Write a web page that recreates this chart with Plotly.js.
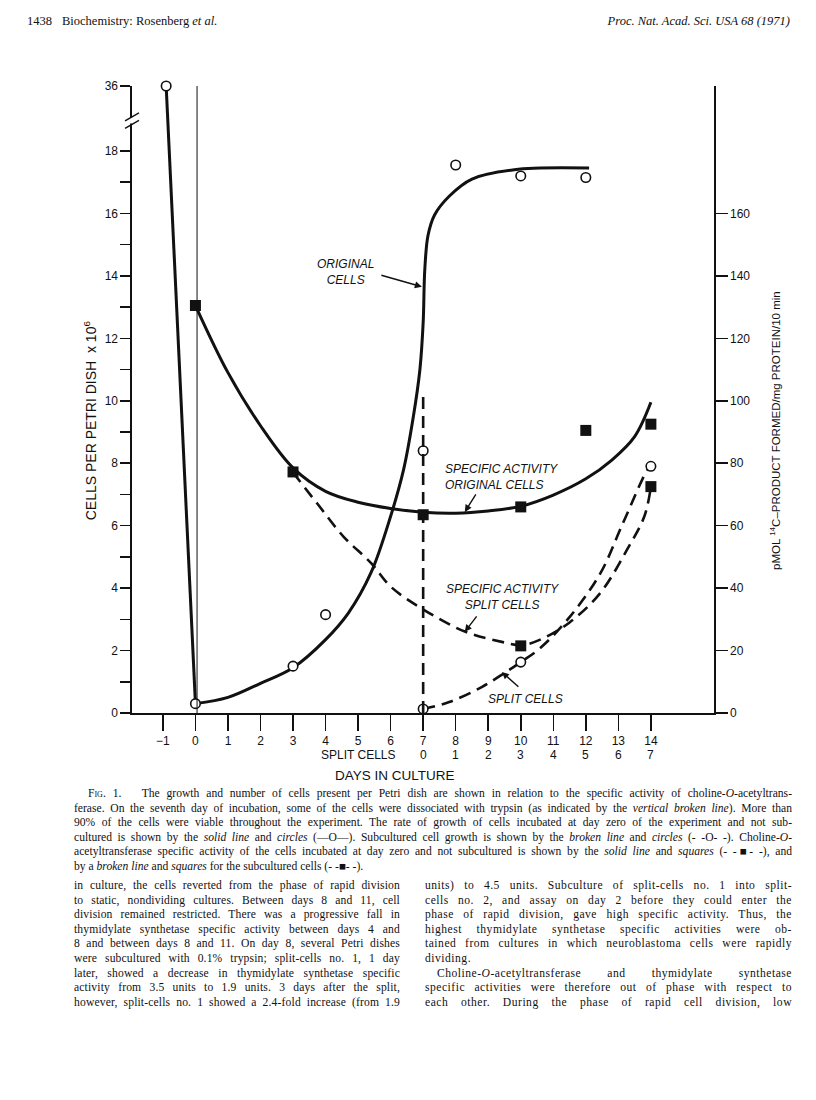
<!DOCTYPE html>
<html>
<head>
<meta charset="utf-8">
<script src="https://cdn.plot.ly/plotly-3.0.1.min.js"></script>
<style>
  body { margin: 0; background: #fff; }
  #page { position: relative; width: 816px; height: 1100px; overflow: hidden; background: #fff; }
  #myPlot { position: absolute; left: 0; top: 0; width: 816px; height: 1100px; }
  .serif { position: absolute; font-family: "Liberation Serif", "DejaVu Serif", serif; color: #111; font-size: 11.6px; line-height: 14.6px; }
  .serif div { text-align: justify; text-align-last: justify; }
  .serif div.end { text-align-last: left; }
  .sc { font-variant: small-caps; }
</style>
</head>
<body>
<div id="page">
  <div id="myPlot"></div>

  <div class="serif" style="left:27px; top:14px; font-size:12.5px;">1438</div>
  <div class="serif" style="left:62px; top:14px; font-size:12.5px;">Biochemistry: Rosenberg <i>et al.</i></div>
  <div class="serif" style="right:26px; top:14px; font-size:12.5px;"><i>Proc. Nat. Acad. Sci. USA 68 (1971)</i></div>

  <div class="serif" style="left:74px; top:787px; width:718px;">
    <div style="padding-left:14px;"><span class="sc">Fig. 1.</span>&nbsp;&nbsp; The growth and number of cells present per Petri dish are shown in relation to the specific activity of choline-<i>O</i>-acetyltrans-</div>
    <div>ferase. On the seventh day of incubation, some of the cells were dissociated with trypsin (as indicated by the <i>vertical broken line</i>). More than</div>
    <div>90% of the cells were viable throughout the experiment. The rate of growth of cells incubated at day zero of the experiment and not sub-</div>
    <div>cultured is shown by the <i>solid line</i> and <i>circles</i> (—O—). Subcultured cell growth is shown by the <i>broken line</i> and <i>circles</i> (- -O- -). Choline-<i>O</i>-</div>
    <div>acetyltransferase specific activity of the cells incubated at day zero and not subcultured is shown by the <i>solid line</i> and <i>squares</i> (- -■- -), and</div>
    <div class="end">by a <i>broken line</i> and <i>squares</i> for the subcultured cells (- -■- -).</div>
  </div>

  <div class="serif" style="left:74px; top:879px; width:326px; letter-spacing:0.15px;">
    <div>in culture, the cells reverted from the phase of rapid division</div>
    <div>to static, nondividing cultures. Between days 8 and 11, cell</div>
    <div>division remained restricted. There was a progressive fall in</div>
    <div>thymidylate synthetase specific activity between days 4 and</div>
    <div>8 and between days 8 and 11. On day 8, several Petri dishes</div>
    <div>were subcultured with 0.1% trypsin; split-cells no. 1, 1 day</div>
    <div>later, showed a decrease in thymidylate synthetase specific</div>
    <div>activity from 3.5 units to 1.9 units. 3 days after the split,</div>
    <div>however, split-cells no. 1 showed a 2.4-fold increase (from 1.9</div>
  </div>

  <div class="serif" style="left:425px; top:879px; width:367px; letter-spacing:0.5px;">
    <div>units) to 4.5 units. Subculture of split-cells no. 1 into split-</div>
    <div>cells no. 2, and assay on day 2 before they could enter the</div>
    <div>phase of rapid division, gave high specific activity. Thus, the</div>
    <div>highest thymidylate synthetase specific activities were ob-</div>
    <div>tained from cultures in which neuroblastoma cells were rapidly</div>
    <div class="end">dividing.</div>
    <div style="padding-left:12px;">Choline-<i>O</i>-acetyltransferase and thymidylate synthetase</div>
    <div>specific activities were therefore out of phase with respect to</div>
    <div>each other. During the phase of rapid cell division, low</div>
  </div>
</div>

<script>
// ======================== data ==============================================
// days in culture (x axis) and days after the split (second row of labels)
const cultureDays = [-1, 0, 1, 2, 3, 4, 5, 6, 7, 8, 9, 10, 11, 12, 13, 14];
const splitDayTicks = [7, 8, 9, 10, 11, 12, 13, 14];
const splitDayLabels = ["0", "1", "2", "3", "4", "5", "6", "7"];
const splitDay = 7;
const splitLineTop = 10.25;

// original cells, cells per dish x 10^6 (circles)
const origDays = [-0.9, 0, 3, 4, 7, 8, 10, 12];
const origCells = [36, 0.3, 1.5, 3.15, 8.4, 17.55, 17.2, 17.15];
// hand drawn growth curve of the original cells
const origCurveDays = [0, 1, 2, 3, 4, 4.7, 5.4, 6, 6.4, 6.7, 6.9, 7, 7.05, 7.15, 7.35, 7.8, 8.5, 9.8, 12.1];
const origCurveCells = [0.3, 0.5, 0.95, 1.45, 2.35, 3.2, 4.5, 6.3, 7.8, 9.5, 11, 12.5, 14.2, 15.3, 15.95, 16.55, 17.1, 17.4, 17.45];

// specific activity, original cells (pmol/mg protein/10 min, squares)
const actDays = [0, 3, 7, 10, 12, 14];
const actOrig = [130.5, 77.2, 63.5, 66, 90.5, 92.5];
const actCurveDays = [0, 1, 2, 3, 4, 5, 6, 7, 8, 9, 10, 11, 12, 12.8, 13.5, 14];
const actCurveOrig = [130.5, 109, 92, 78.5, 71, 67.5, 65.5, 64.3, 64, 64.7, 66.2, 69.8, 75, 81, 88.5, 99.5];

// specific activity, split cells
const splitActDays = [10, 14];
const splitAct = [21.5, 72.5];
const splitActCurveDays = [3, 3.75, 4.55, 5.4, 6, 6.95, 8.3, 9.45, 10, 10.6, 11.5, 12.45, 13.25, 13.8, 14];
const splitActCurve = [77, 67, 56.5, 48, 40.5, 33.5, 26, 22.7, 21.7, 23.5, 29, 38.5, 52, 63, 72.5];

// split cells growth
const splitCellDays = [7, 10, 14];
const splitCells = [0.13, 1.63, 7.9];
const splitCellCurveDays = [7, 7.8, 8.8, 9.5, 10, 10.6, 11.5, 12.45, 13.15, 13.9, 14];
const splitCellCurve = [0.13, 0.35, 0.83, 1.28, 1.63, 2.08, 3.07, 4.48, 6.1, 7.8, 7.9];

// left axis ticks (broken above 18, top tick is 36)
const cellTicks = [0, 1, 2, 3, 4, 5, 6, 7, 8, 9, 10, 11, 12, 13, 14, 15, 16, 17, 18, 36];
const activityTicks = [0, 20, 40, 60, 80, 100, 120, 140, 160];

// ======================== axis break =========================
const yTop = 20.08;            // where "36" sits on the broken axis
const brk = v => (v > 19 ? yTop : v);

const black = "#111";
const sans = "Liberation Sans, Arial, sans-serif";
const dashed = "12px,7px";

const data = [
  { // steep fall from day -1 to day 0
    x: origDays.slice(0, 2), y: origCells.slice(0, 2).map(brk),
    mode: "lines", line: { color: black, width: 3 }, cliponaxis: false
  },
  {
    x: origCurveDays, y: origCurveCells,
    mode: "lines", line: { color: black, width: 3, shape: "spline", smoothing: 1 }
  },
  {
    x: actCurveDays, y: actCurveOrig, yaxis: "y2",
    mode: "lines", line: { color: black, width: 3, shape: "spline", smoothing: 1 }
  },
  {
    x: splitActCurveDays, y: splitActCurve, yaxis: "y2",
    mode: "lines", line: { color: black, width: 2.6, dash: dashed, shape: "spline", smoothing: 1 }
  },
  {
    x: splitCellCurveDays, y: splitCellCurve,
    mode: "lines", line: { color: black, width: 2.6, dash: dashed, shape: "spline", smoothing: 1 }
  },
  {
    x: actDays, y: actOrig, yaxis: "y2", mode: "markers", cliponaxis: false,
    marker: { symbol: "square", size: 11, color: black }
  },
  {
    x: splitActDays, y: splitAct, yaxis: "y2", mode: "markers", cliponaxis: false,
    marker: { symbol: "square", size: 11, color: black }
  },
  {
    x: origDays, y: origCells.map(brk), mode: "markers", cliponaxis: false,
    marker: { symbol: "circle", size: 9.5, color: "#fff", line: { color: black, width: 1.6 } }
  },
  {
    x: splitCellDays, y: splitCells, mode: "markers", cliponaxis: false,
    marker: { symbol: "circle", size: 9.5, color: "#fff", line: { color: black, width: 1.6 } }
  }
];

const row2 = -0.067, row3 = -0.099;
const annotations = [
  // second row of x labels
  ...splitDayTicks.map((d, i) => ({
    x: d, y: row2, xref: "x", yref: "paper", yanchor: "middle", text: splitDayLabels[i],
    showarrow: false, font: { family: sans, size: 12, color: black }
  })),
  { x: 6.2, y: row2, xref: "x", yref: "paper", xanchor: "right", yanchor: "middle", text: "SPLIT CELLS",
    showarrow: false, font: { family: sans, size: 12, color: black } },
  { x: 6.13, y: row3, xref: "x", yref: "paper", yanchor: "middle", text: "DAYS IN CULTURE",
    showarrow: false, font: { family: sans, size: 13.5, color: black } },
  // axis titles
  { x: -0.072, y: 0.467, xref: "paper", yref: "paper", xanchor: "center", yanchor: "middle", textangle: -90,
    text: "CELLS PER PETRI DISH  x 10<sup>6</sup>", showarrow: false,
    font: { family: sans, size: 14, color: black } },
  { x: 1.105, y: 0.45, xref: "paper", yref: "paper", xanchor: "center", yanchor: "middle", textangle: -90,
    text: "pMOL <sup>14</sup>C–PRODUCT FORMED/mg PROTEIN/10 min", showarrow: false,
    font: { family: sans, size: 11.5, color: black } },
  // curve labels
  { x: 4.6, y: 14.13, text: "<i>ORIGINAL<br>CELLS</i>", showarrow: false,
    font: { family: sans, size: 12, color: black } },
  { x: 7.61, y: 7.56, xanchor: "left", align: "left", text: "<i>SPECIFIC ACTIVITY<br>ORIGINAL CELLS</i>",
    showarrow: false, font: { family: sans, size: 12, color: black } },
  { x: 9.45, y: 3.72, text: "<i>SPECIFIC ACTIVITY<br>SPLIT CELLS</i>",
    showarrow: false, font: { family: sans, size: 12, color: black } },
  { x: 8.93, y: 0.45, xanchor: "left", text: "<i>SPLIT CELLS</i>",
    showarrow: false, font: { family: sans, size: 12, color: black } },
  // arrows
  { x: 6.96, y: 13.65, ax: -42, ay: -12, text: "", showarrow: true, arrowhead: 2, arrowsize: 1, arrowwidth: 1.4, arrowcolor: black },
  { x: 8.28, y: 6.44, ax: 12, ay: -19, text: "", showarrow: true, arrowhead: 2, arrowsize: 1, arrowwidth: 1.4, arrowcolor: black },
  { x: 8.28, y: 2.6, ax: 13, ay: -17, text: "", showarrow: true, arrowhead: 2, arrowsize: 1, arrowwidth: 1.4, arrowcolor: black },
  { x: 9.42, y: 1.31, ax: 18, ay: 16, text: "", showarrow: true, arrowhead: 2, arrowsize: 1, arrowwidth: 1.4, arrowcolor: black }
];

const shapes = [
  // day 0 reference line
  { type: "line", xref: "x", yref: "y", x0: 0.05, x1: 0.05, y0: 0, y1: yTop, line: { color: black, width: 1 } },
  // trypsin split (vertical broken line)
  { type: "line", xref: "x", yref: "y", x0: splitDay, x1: splitDay, y0: 0, y1: splitLineTop,
    line: { color: black, width: 2.6, dash: dashed } },
  // axis break on the left axis
  { type: "rect", xref: "paper", yref: "y", x0: -0.006, x1: 0.006, y0: 18.88, y1: 19.06,
    fillcolor: "#fff", line: { width: 0 } },
  { type: "line", xref: "paper", yref: "y", x0: -0.012, x1: 0.012, y0: 18.72, y1: 18.98, line: { color: black, width: 1.4 } },
  { type: "line", xref: "paper", yref: "y", x0: -0.012, x1: 0.012, y0: 18.96, y1: 19.22, line: { color: black, width: 1.4 } }
];

const layout = {
  width: 816, height: 1100,
  margin: { l: 132, r: 102, t: 86, b: 387, pad: 0 },
  paper_bgcolor: "rgba(0,0,0,0)", plot_bgcolor: "rgba(0,0,0,0)",
  showlegend: false,
  font: { family: sans, size: 12, color: black },
  xaxis: {
    range: [-1.95, 15.94], tickvals: cultureDays, ticks: "outside", ticklen: 16, tickwidth: 1.5,
    tickcolor: black, showline: true, linewidth: 1.6, linecolor: black,
    showgrid: false, zeroline: false, tickfont: { family: sans, size: 12, color: black }
  },
  yaxis: {
    range: [0, yTop], tickvals: cellTicks.map(brk),
    ticktext: cellTicks.map(v => (v % 2 === 0 ? String(v) : "")),
    ticks: "outside", ticklen: 10, tickwidth: 1.5, tickcolor: black,
    showline: true, linewidth: 1.6, linecolor: black, showgrid: false, zeroline: false,
    tickfont: { family: sans, size: 12, color: black }
  },
  yaxis2: {
    overlaying: "y", side: "right", range: [0, yTop * 10], tickvals: activityTicks,
    ticks: "outside", ticklen: 12, tickwidth: 1.5, tickcolor: black,
    showline: true, linewidth: 1.6, linecolor: black, showgrid: false, zeroline: false,
    tickfont: { family: sans, size: 12, color: black }
  },
  annotations: annotations,
  shapes: shapes
};

Plotly.newPlot("myPlot", data, layout, { staticPlot: true });
</script>
</body>
</html>
